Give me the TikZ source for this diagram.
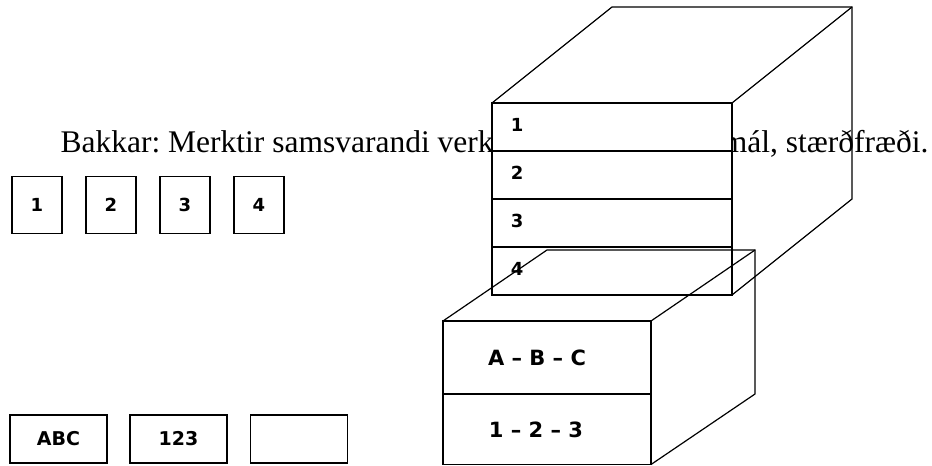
\documentclass[tikz,border=0pt]{standalone}
\usepackage{fontspec}
\setmainfont{Liberation Serif}
\newfontfamily\tagfont{DejaVu Sans}

\begin{document}
\begin{tikzpicture}[x=1pt, y=-1pt, line width=1.2pt]
  \useasboundingbox (0,0) rectangle (932,466);

  \node[anchor=base west, inner sep=0pt, font=\fontsize{31.5}{34}\selectfont\frenchspacing] (title) at (60,152)
       {Bakkar: Merktir samsvarandi verkefnum: íslenskt ritmál, stærðfræði.};

  \foreach \i in {1,...,4}
    \node[draw, minimum width=50pt, minimum height=57pt, font=\tagfont\bfseries\fontsize{18}{20}\selectfont]
         (tray\i) at ({37+74*(\i-1)},205) {\i};

  \node[draw, minimum width=97pt, minimum height=48pt, font=\tagfont\bfseries\fontsize{19}{20}\selectfont] (abc) at (58.5,439) {ABC};
  \node[draw, minimum width=97pt, minimum height=48pt, font=\tagfont\bfseries\fontsize{19}{20}\selectfont] (num) at (178.5,439) {123};
  \node[draw, minimum width=97pt, minimum height=48pt] (blank) at (299,439) {};

  \draw (492,103) -- (612,7) -- (852,7) -- (852,199) -- (732,295);
  \draw (732,103) -- (852,7);
  \draw[fill=white] (492,103) rectangle (732,295);
  \foreach \y/\n in {103/1,151/2,199/3,247/4} {
    \draw (492,\y) rectangle (732,\y+48);
    \node[anchor=west, font=\tagfont\bfseries\fontsize{18}{20}\selectfont] (drawer\n) at (507,\y+22) {\n};
  }

  \draw (443,321) -- (547,250) -- (755,250) -- (755,394) -- (651,464.5);
  \draw (651,321) -- (755,250);
  \draw (443,321) rectangle (651,464.5);
  \draw (443,394) -- (651,394);
  \node[font=\tagfont\bfseries\fontsize{21}{22}\selectfont] (letters) at (537,358) {A – B – C};
  \node[font=\tagfont\bfseries\fontsize{21}{22}\selectfont] (digits) at (536,430) {1 – 2 – 3};
\end{tikzpicture}
\end{document}
